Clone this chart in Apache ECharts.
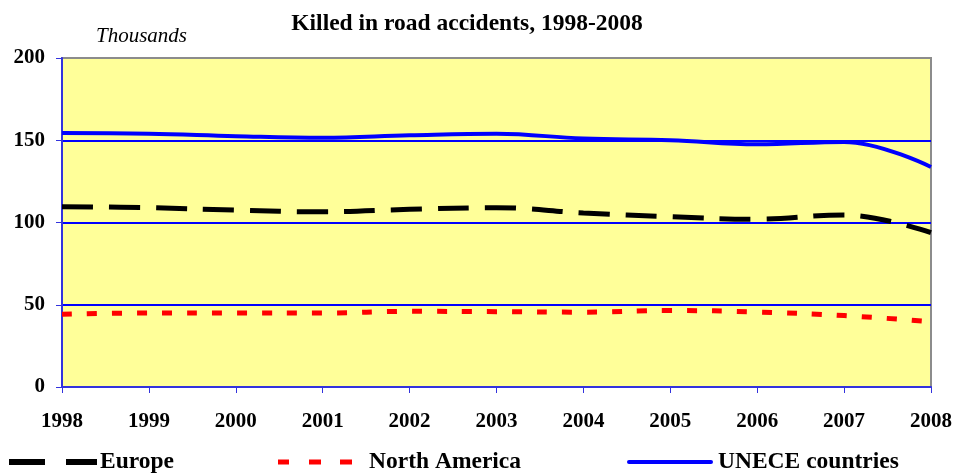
<!DOCTYPE html>
<html>
<head>
<meta charset="utf-8">
<script src="https://cdn.jsdelivr.net/npm/echarts@6/dist/echarts.min.js"></script>
<style>html,body{margin:0;padding:0;background:#fff}#c{width:955px;height:474px}</style>
</head>
<body>
<div id="c"></div>
<script>
const years = ['1998','1999','2000','2001','2002','2003','2004','2005','2006','2007','2008'];
const europe = [109.6, 109.0, 107.5, 106.5, 108.0, 109.0, 105.8, 103.5, 102.0, 104.6, 93.8];
const northAmerica = [44.2, 45.0, 45.0, 45.0, 46.0, 45.8, 45.5, 46.5, 45.6, 43.4, 39.7];
const unece = [154.4, 154.0, 152.5, 151.5, 153.0, 154.0, 151.0, 150.0, 147.5, 149.0, 133.7];
const yTicks = [0, 50, 100, 150, 200];

const FONT = '"Liberation Serif", "Times New Roman", serif';
const legendText = { fontFamily: FONT, fontWeight: 'bold', fontSize: 23.5, color: '#000' };
const chart = echarts.init(document.getElementById('c'));
chart.setOption({
  animation: false,
  title: [
    { text: 'Killed in road accidents, 1998-2008', left: 462, top: 7, textAlign: 'center',
      textStyle: { fontFamily: FONT, fontWeight: 'bold', fontSize: 23.5, color: '#000' } },
    { text: 'Thousands', left: 91, top: 21,
      textStyle: { fontFamily: FONT, fontStyle: 'italic', fontWeight: 'normal', fontSize: 21, color: '#000' } }
  ],
  grid: { left: 62, right: 22, top: 58, bottom: 87, show: true, backgroundColor: '#FFFF99',
          borderColor: '#8C8C8C', borderWidth: 2 },
  legend: [
    { data: [{ name: 'Europe', icon: 'path://M0,0H36V6H0Z M57,0H88V6H57Z' }],
      left: 9, top: 450, padding: 0, itemWidth: 88, itemHeight: 6, itemGap: 0,
      itemStyle: { color: '#000' },
      textStyle: Object.assign({ padding: [0, 0, 0, -2] }, legendText) },
    { data: [{ name: 'North America', icon: 'path://M0,0H11V5H0Z M31,0H43V5H31Z M62,0H74V5H62Z' }],
      left: 278, top: 450, padding: 0, itemWidth: 74, itemHeight: 5,
      itemStyle: { color: '#FF0000' },
      textStyle: Object.assign({ padding: [0, 0, 0, 12] }, legendText) },
    { data: [{ name: 'UNECE countries', icon: 'path://M2,0H84A2,2 0 0 1 84,4H2A2,2 0 0 1 2,0Z' }],
      left: 627, top: 450, padding: 0, itemWidth: 86, itemHeight: 4,
      itemStyle: { color: '#0000FF' },
      textStyle: Object.assign({ padding: [0, 0, 0, 0] }, legendText) }
  ],
  xAxis: {
    type: 'category', data: years, boundaryGap: false,
    axisLine: { lineStyle: { color: '#3333DD', width: 2 } },
    axisTick: { show: true, length: 6, lineStyle: { color: '#3333DD', width: 1 } },
    axisLabel: { fontFamily: FONT, fontWeight: 'bold', fontSize: 21, color: '#000', margin: 24 },
    splitLine: { show: false }
  },
  yAxis: {
    type: 'value', min: 0, max: 200, interval: 50,
    axisLine: { show: true, lineStyle: { color: '#3333DD', width: 2 } },
    axisTick: { show: true, length: 6, lineStyle: { color: '#3333DD', width: 1 } },
    axisLabel: { fontFamily: FONT, fontWeight: 'bold', fontSize: 21, color: '#000', margin: 17,
      formatter: v => yTicks.includes(v) ? String(v) : '' },
    splitLine: { show: true, showMaxLine: false, showMinLine: false, lineStyle: { color: '#0000FF', width: 2 } }
  },
  series: [
    { name: 'Europe', type: 'line', data: europe, smooth: 0.4, symbol: 'none', z: 3,
      lineStyle: { color: '#000', width: 5, type: [31, 16] }, itemStyle: { color: '#000' } },
    { name: 'North America', type: 'line', data: northAmerica, smooth: 0.4, symbol: 'none', z: 3,
      lineStyle: { color: '#FF0000', width: 5, type: [10, 15] }, itemStyle: { color: '#FF0000' } },
    { name: 'UNECE countries', type: 'line', data: unece, smooth: 0.4, symbol: 'none', z: 3,
      lineStyle: { color: '#0000FF', width: 4 }, itemStyle: { color: '#0000FF' } }
  ]
});
</script>
</body>
</html>
